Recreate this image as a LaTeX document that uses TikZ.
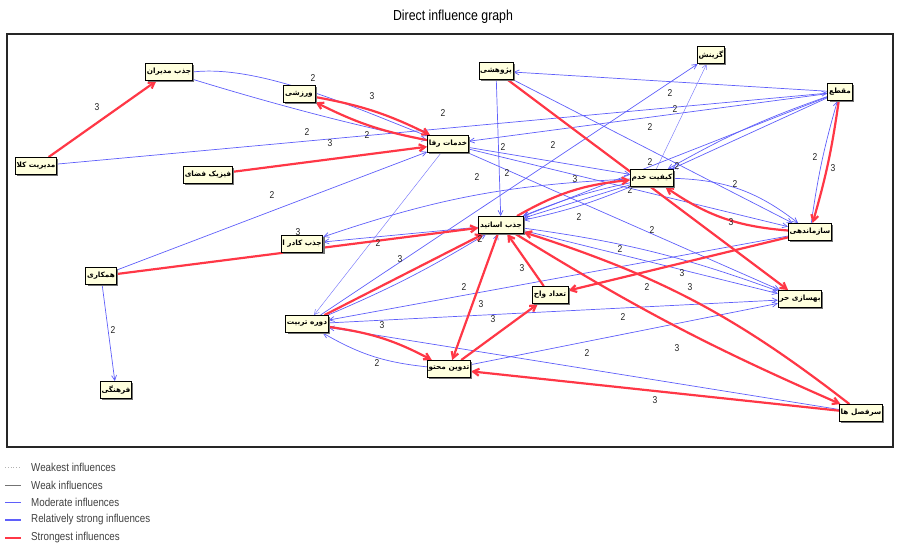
\documentclass[tikz,border=0pt]{standalone}
\usepackage{fontspec}
\newfontfamily\arabicfont[Script=Arabic]{DejaVu Sans}
\newfontfamily\narrowsans[FakeStretch=0.85]{Liberation Sans}
\TeXXeTstate=1
\usetikzlibrary{arrows.meta,shadows}
\pgfdeclarelayer{edges}
\pgfsetlayers{edges,main}
\definecolor{mblue}{RGB}{95,95,250}
\definecolor{mred}{RGB}{255,55,70}
\definecolor{cream}{RGB}{255,255,222}
\newcommand\rtl[1]{\beginR #1\endR}
\tikzset{
 var/.style={draw=black, line width=0.9pt, fill=cream,
   drop shadow={shadow xshift=1.8pt, shadow yshift=-1.8pt, fill=black!55, opacity=1},
   font=\arabicfont\bfseries\fontsize{7.3}{8}\selectfont, inner xsep=1.2pt, inner ysep=0pt, minimum height=17pt},
 mod/.style={draw=mblue, line width=0.7pt, -{Straight Barb[length=5pt,width=5pt]}},
 thinl/.style={draw=mblue!85, line width=0.45pt, -{Straight Barb[length=5pt,width=5pt]}},
 strong/.style={draw=mred, line width=2.2pt, -{Straight Barb[length=6pt,width=7pt]}},
 lab/.style={font=\narrowsans\fontsize{10}{11}\selectfont, inner sep=0pt, text=black!85},
 legtext/.style={font=\narrowsans\fontsize{11.5}{12}\selectfont, inner sep=0pt, anchor=west, text=black!75},
}
\begin{document}
\begin{tikzpicture}[x=1pt,y=-1pt]
\useasboundingbox (0,0) rectangle (900,547);
\node[font=\narrowsans\fontsize{14.5}{15}\selectfont] (title) at (453,17) {Direct influence graph};
\draw[line width=1.1pt, black!85] (7,34) rectangle (893,447);

% variables
\node[var, minimum width=42pt] (JM) at (169,72) {\rtl{جذب مدیران}};
\node[var, minimum width=32pt] (VR) at (299,94) {\rtl{ورزشی}};
\node[var, minimum width=32pt] (PZ) at (496,71) {\rtl{پژوهشی}};
\node[var, minimum width=24pt] (GZ) at (711,55) {\rtl{گزینش}};
\node[var, minimum width=21pt] (MQ) at (840,92) {\rtl{مقطع}};
\node[var, minimum width=40pt] (MK) at (36,166) {\rtl{مدیریت کلا}};
\node[var, minimum width=40pt] (KR) at (448,144) {\rtl{خدمات رفا}};
\node[var, minimum width=47pt] (FF) at (208,175) {\rtl{فیزیک فضای}};
\node[var, minimum width=40pt] (KQ) at (652,178) {\rtl{کیفیت خدم}};
\node[var, minimum width=39pt] (JA) at (501,225) {\rtl{جذب اساتید}};
\node[var, minimum width=40pt] (JK) at (302,244) {\rtl{جذب کادر ا}};
\node[var, minimum width=37pt] (SZ) at (810,232) {\rtl{سازماندهی}};
\node[var, minimum width=30pt] (HM) at (101,276) {\rtl{همکاری}};
\node[var, minimum width=36pt] (TV) at (550,295) {\rtl{تعداد واح}};
\node[var, minimum width=43pt] (BH) at (800,299) {\rtl{بهسازی حر}};
\node[var, minimum width=39pt] (DT) at (307,324) {\rtl{دوره تربیت}};
\node[var, minimum width=38pt] (TM) at (449,369) {\rtl{تدوین محتو}};
\node[var, minimum width=28pt] (FH) at (116,390) {\rtl{فرهنگی}};
\node[var, minimum width=38pt] (SF) at (861,413) {\rtl{سرفصل ها}};

\begin{pgfonlayer}{edges}
% moderate influences
\draw[mod] (MK) -- (MQ);
\draw[mod] (JM.east) .. controls (260,64) and (360,110) .. (KR);
\draw[mod] (JM) .. controls (260,100) and (350,125) .. (KR);
\draw[thinl] (KR) -- (DT);
\draw[mod] (HM) -- (KR);
\draw[mod] (HM) -- (FH);
\draw[mod] (MQ) -- (PZ);
\draw[mod] (MQ) -- (KQ);
\draw[mod] (MQ) to[bend right=5] (KQ);
\draw[mod] (SZ) to[bend left=4] (MQ);
\draw[thinl] (KQ) -- (GZ);
\draw[mod] (DT) -- (GZ);
\draw[mod] (PZ) -- (JA);
\draw[mod] (PZ) -- (SZ);
\draw[mod] (KR) -- (BH);
\draw[mod] (KR) -- (KQ);
\draw[mod] (KQ) to[bend right=8] (JK);
\draw[mod] (JA) -- (JK);
\draw[mod] (SZ) -- (DT);
\draw[mod] (DT) -- (BH);
\draw[mod] (SF) -- (DT);
\draw[mod] (TM) -- (BH);
\draw[mod] (KQ) -- (JA);
\draw[mod] (KQ) to[bend left=5] (JA);
\draw[mod] (KQ) to[bend right=5] (JA);
\draw[mod] (JA) -- (BH);
\draw[mod] (JA) to[bend left=6] (BH);
\draw[mod] (KQ) to[bend left=18] (SZ);
\draw[mod] (TM) -- (JA);
\draw[mod] (DT) to[bend right=4] (JA);
\draw[mod] (MQ) -- (JA);
\draw[mod] (MQ) -- (KR);
\draw[mod] (KR) -- (SZ);
\draw[mod] (TM) to[bend left=12] (DT);
% strongest influences
\draw[strong] (MK) -- (JM);
\draw[strong] (VR) to[bend left=8] (KR);
\draw[strong] (KR) to[bend left=8] (VR);
\draw[strong] (FF) -- (KR);
\draw[strong] (PZ) -- (BH);
\draw[strong] (SZ) to[bend left=15] (KQ);
\draw[strong] (SZ) -- (TV);
\draw[strong] (HM) -- (JA);
\draw[strong] (DT) -- (JA);
\draw[strong] (DT) to[bend left=10] (TM);
\draw[strong] (TM) -- (TV);
\draw[strong] (JA) -- (TM);
\draw[strong] (SF) -- (TM);
\draw[strong] (JA) to[bend right=4] (SF);
\draw[strong] (SF) to[bend right=10] (JA);
\draw[strong] (JA) to[bend left=12] (KQ);
\draw[strong] (TV) -- (JA);
\draw[strong] (MQ) to[bend left=4] (SZ);
\end{pgfonlayer}

% intensity labels
\node[lab] (l1) at (97,107) {3};
\node[lab] (l2) at (313,78) {2};
\node[lab] (l3) at (372,96) {3};
\node[lab] (l4) at (443,113) {2};
\node[lab] (l5) at (670,93) {2};
\node[lab] (l6) at (675,109) {2};
\node[lab] (l7) at (650,127) {2};
\node[lab] (l8) at (307,132) {2};
\node[lab] (l9) at (367,135) {2};
\node[lab] (l10) at (330,143) {3};
\node[lab] (l11) at (553,145) {2};
\node[lab] (l12) at (503,147) {2};
\node[lab] (l13) at (477,177) {2};
\node[lab] (l14) at (507,173) {2};
\node[lab] (l15) at (575,179) {3};
\node[lab] (l16) at (650,162) {2};
\node[lab] (l17) at (677,166) {2};
\node[lab] (l18) at (630,190) {2};
\node[lab] (l19) at (735,184) {2};
\node[lab] (l20) at (731,222) {3};
\node[lab] (l21) at (579,217) {2};
\node[lab] (l22) at (652,230) {2};
\node[lab] (l23) at (620,249) {2};
\node[lab] (l24) at (272,195) {2};
\node[lab] (l25) at (815,157) {2};
\node[lab] (l26) at (833,168) {3};
\node[lab] (l27) at (378,243) {2};
\node[lab] (l28) at (298,232) {3};
\node[lab] (l29) at (480,239) {2};
\node[lab] (l30) at (400,259) {3};
\node[lab] (l31) at (522,268) {3};
\node[lab] (l32) at (464,287) {2};
\node[lab] (l33) at (682,273) {3};
\node[lab] (l34) at (690,287) {3};
\node[lab] (l35) at (647,287) {2};
\node[lab] (l36) at (481,304) {3};
\node[lab] (l37) at (493,319) {3};
\node[lab] (l38) at (623,317) {2};
\node[lab] (l39) at (382,325) {3};
\node[lab] (l40) at (587,353) {2};
\node[lab] (l41) at (677,348) {3};
\node[lab] (l42) at (377,363) {2};
\node[lab] (l43) at (655,400) {3};
\node[lab] (l44) at (113,330) {2};

% legend
\coordinate (a1) at (5,467); \coordinate (b1) at (21,467);
\coordinate (a2) at (5,485); \coordinate (b2) at (21,485);
\coordinate (a3) at (5,502); \coordinate (b3) at (21,502);
\coordinate (a4) at (5,520); \coordinate (b4) at (21,520);
\coordinate (a5) at (5,538); \coordinate (b5) at (21,538);
\draw[black!30, dotted, line width=0.8pt] (a1) -- (b1);
\draw[black!55, line width=0.8pt] (a2) -- (b2);
\draw[mblue, line width=0.8pt] (a3) -- (b3);
\draw[mblue, line width=2pt] (a4) -- (b4);
\draw[mred, line width=2pt] (a5) -- (b5);
\node[legtext] (t1) at (31,467) {Weakest influences};
\node[legtext] (t2) at (31,485) {Weak influences};
\node[legtext] (t3) at (31,502) {Moderate influences};
\node[legtext] (t4) at (31,520) {Relatively strong influences};
\node[legtext] (t5) at (31,538) {Strongest influences};
\end{tikzpicture}
\end{document}
